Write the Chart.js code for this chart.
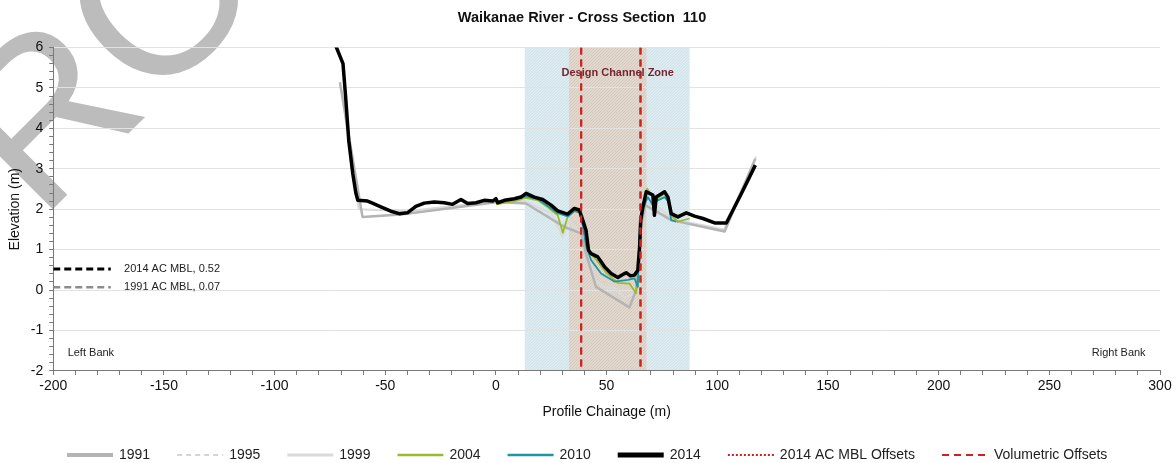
<!DOCTYPE html>
<html>
<head>
<meta charset="utf-8">
<script src="https://cdn.jsdelivr.net/npm/chart.js@4.4.0/dist/chart.umd.min.js"></script>
<style>
  html, body { margin: 0; padding: 0; background: #fff; }
  #wrap { width: 1176px; height: 463px; position: relative; }
</style>
</head>
<body>
<div id="wrap"><canvas id="xs"></canvas></div>
<script>
// survey profiles - chainage (m) / elevation (m)
const ch1991 = [-70.5, -60.3, -43, 0.8, 13.6, 30.9, 38.5, 40.7, 45.2, 60.3, 63.3, 65.5, 67.5, 79.2, 103.3, 117.2];
const el1991 = [5.14, 1.81, 1.87, 2.18, 2.14, 1.56, 1.4, 0.9, 0.08, -0.43, 0.0, 1.6, 2.1, 1.73, 1.45, 3.25];

const ch1995 = [-70.5, -60.3, -43, 0.8, 13.6, 28, 36, 41, 46, 51, 56, 60, 63, 65.5, 68, 79.2, 103.3, 117.2];
const el1995 = [5.14, 1.81, 1.87, 2.18, 2.14, 1.7, 1.45, 0.75, 0.3, 0.1, -0.05, -0.2, 0.1, 1.5, 2.2, 1.73, 1.45, 3.25];

const ch1999 = [-70, -62, -40, 0, 13, 25, 30.2, 33, 40, 44.6, 49, 53.5, 58, 62, 64.5, 66, 68, 80, 103, 117.5];
const el1999 = [5.0, 2.0, 1.95, 2.2, 2.2, 1.9, 1.32, 1.7, 1.3, 0.25, 0.07, 0.05, -0.17, -0.12, 0.3, 2.0, 2.3, 1.75, 1.5, 3.3];

const ch2004 = [0, 8.3, 13.6, 18.9, 23.4, 27.9, 30.2, 32.4, 35.4, 37.7, 39.2, 40.7, 42, 46, 50, 55, 60.3, 63.3, 64.2, 65.4, 66.4, 68.3, 70.9, 71.6, 72.4, 76.2, 77.7, 79.2, 82.2, 87.5];
const el2004 = [2.12, 2.2, 2.28, 2.22, 2.05, 1.85, 1.42, 1.81, 1.95, 1.92, 1.65, 1.35, 0.95, 0.7, 0.42, 0.18, 0.16, -0.08, 0.42, 1.7, 2.05, 2.51, 2.3, 1.85, 2.25, 2.38, 2.25, 1.85, 1.69, 1.77];

const ch2010 = [0, 8.3, 13.6, 18.9, 23.4, 27.9, 32.4, 35.4, 37.7, 39.2, 40.7, 43, 47.5, 53.5, 59.6, 62.6, 64.1, 65, 66.4, 68.6, 70.9, 71.6, 72.4, 76.2, 77.7, 79.2, 81.4];
const el2010 = [2.15, 2.25, 2.32, 2.25, 2.08, 1.9, 1.82, 1.96, 1.92, 1.6, 1.1, 0.74, 0.41, 0.21, 0.25, 0.29, 0.08, 1.5, 2.0, 2.3, 2.1, 1.9, 2.2, 2.3, 2.2, 1.73, 1.69];

const ch2014 = [-72.8, -69.1, -67.9, -66.5, -64.7, -63.3, -62.4, -58, -55.8, -52, -47.5, -43.7, -40, -36.2, -32.4, -27.9, -23.4, -19.6, -15.8, -12.8, -9, -5.3, -1.5, 0, 0.8, 3.8, 8.3, 11.3, 13.6, 17.3, 21.1, 24.9, 27.9, 32.4, 35.4, 37.7, 39.2, 40.7, 41.8, 43, 46, 49, 52, 55.1, 56.9, 58.8, 60.8, 62.6, 64.1, 64.9, 65.4, 66.4, 67.9, 70.9, 71.6, 72.4, 76.2, 77.7, 79.2, 82.2, 86, 89.7, 93.5, 98.8, 104.1, 107.1, 110.9, 117.2];
const el2014 = [6.1, 5.6, 4.77, 3.7, 2.89, 2.4, 2.22, 2.2, 2.15, 2.06, 1.95, 1.89, 1.91, 2.07, 2.15, 2.18, 2.16, 2.12, 2.24, 2.14, 2.16, 2.22, 2.2, 2.26, 2.16, 2.22, 2.26, 2.3, 2.39, 2.3, 2.24, 2.1, 1.96, 1.88, 2.02, 1.98, 1.73, 1.48, 0.99, 0.9, 0.82, 0.58, 0.41, 0.31, 0.37, 0.43, 0.35, 0.37, 0.49, 1.07, 1.73, 2.06, 2.43, 2.35, 1.85, 2.3, 2.43, 2.3, 1.89, 1.81, 1.91, 1.83, 1.77, 1.66, 1.66, 1.98, 2.39, 3.09];

// offsets and zones
const mblOffsetX = [38.5, 65.3];
const volOffsetX = [38.5, 65.3];
const blueZone = [13, 87.5];
const channelZone = [33, 68];
const yLimits = [-2, 6];

// mean bed levels
const mblX = [-200, -174];
const mbl2014 = 0.52;
const mbl1991 = 0.07;

const fam = "'Liberation Sans', Arial, sans-serif";
Chart.defaults.font.family = fam;
Chart.defaults.color = '#111';

function pts(xs, ys) {
  return xs.map((x, i) => ({ x: x, y: ys[i] }));
}

function vlines(xs) {
  let out = [];
  xs.forEach(x => {
    out.push({ x: x, y: yLimits[1] }, { x: x, y: yLimits[0] }, { x: x, y: null });
  });
  return out;
}

function isWhole(v, step) {
  return Math.abs(v / step - Math.round(v / step)) < 1e-6;
}

function hatch(base, dot) {
  const c = document.createElement('canvas');
  c.width = 3; c.height = 3;
  const g = c.getContext('2d');
  g.fillStyle = base;
  g.fillRect(0, 0, 3, 3);
  g.fillStyle = dot;
  g.fillRect(0, 0, 1, 1);
  g.fillRect(2, 1, 1, 1);
  g.fillRect(1, 2, 1, 1);
  return c;
}

const zonesPlugin = {
  id: 'zones',
  beforeDraw(chart) {
    const ctx = chart.ctx;
    const a = chart.chartArea;
    const x = chart.scales.x;

    // watermark
    ctx.save();
    ctx.translate(40, 222);
    ctx.rotate(-Math.PI / 4);
    ctx.font = '220px ' + fam;
    ctx.fillStyle = 'rgb(188,188,188)';
    ctx.fillText('RO', 0, 0);
    ctx.restore();

    ctx.save();
    ctx.fillStyle = ctx.createPattern(hatch('rgb(221,236,241)', 'rgb(208,225,232)'), 'repeat');
    ctx.fillRect(x.getPixelForValue(blueZone[0]), a.top, x.getPixelForValue(blueZone[1]) - x.getPixelForValue(blueZone[0]), a.bottom - a.top);
    ctx.fillStyle = ctx.createPattern(hatch('rgb(226,216,206)', 'rgb(212,201,191)'), 'repeat');
    ctx.fillRect(x.getPixelForValue(channelZone[0]), a.top, x.getPixelForValue(channelZone[1]) - x.getPixelForValue(channelZone[0]), a.bottom - a.top);
    ctx.restore();
  },
  afterDatasetsDraw(chart) {
    const ctx = chart.ctx;
    const x = chart.scales.x, y = chart.scales.y;
    ctx.save();
    ctx.textBaseline = 'middle';
    ctx.font = 'bold 11px ' + fam;
    ctx.fillStyle = 'rgb(118,38,48)';
    ctx.textAlign = 'center';
    ctx.fillText('Design Channel Zone', x.getPixelForValue(55), y.getPixelForValue(5.37));

    ctx.font = '11px ' + fam;
    ctx.fillStyle = '#222';
    ctx.textAlign = 'left';
    ctx.fillText('2014 AC MBL, ' + mbl2014.toFixed(2), x.getPixelForValue(-168), y.getPixelForValue(mbl2014));
    ctx.fillText('1991 AC MBL, ' + mbl1991.toFixed(2), x.getPixelForValue(-168), y.getPixelForValue(mbl1991));
    ctx.fillText('Left Bank', x.getPixelForValue(-193.5), y.getPixelForValue(-1.55));
    ctx.textAlign = 'right';
    ctx.fillText('Right Bank', x.getPixelForValue(293.5), y.getPixelForValue(-1.55));
    ctx.restore();
  }
};

const legendPlugin = {
  id: 'lineLegend',
  afterDraw(chart) {
    const ctx = chart.ctx;
    const ly = chart.height - 8;
    let lx = 67;
    ctx.save();
    ctx.font = '14px ' + fam;
    ctx.textBaseline = 'middle';
    ctx.textAlign = 'left';
    chart.data.datasets.forEach(ds => {
      if (!ds.inLegend) return;
      ctx.strokeStyle = ds.borderColor;
      ctx.lineWidth = ds.legendWidth;
      ctx.setLineDash(ds.legendDash || ds.borderDash || []);
      ctx.beginPath();
      ctx.moveTo(lx, ly);
      ctx.lineTo(lx + 46, ly);
      ctx.stroke();
      ctx.fillStyle = '#222';
      ctx.fillText(ds.label, lx + 52, ly);
      lx += 52 + ctx.measureText(ds.label).width + 27;
    });
    ctx.restore();
  }
};

new Chart(document.getElementById('xs'), {
  type: 'line',
  data: {
    datasets: [
      { label: '1991', data: pts(ch1991, el1991), borderColor: 'rgb(180,180,180)', borderWidth: 2.5, legendWidth: 4, inLegend: true, order: 3 },
      { label: '1995', data: pts(ch1995, el1995), borderColor: 'rgb(212,212,212)', borderWidth: 1.5, borderDash: [5, 4], legendWidth: 2, inLegend: true, order: 5 },
      { label: '1999', data: pts(ch1999, el1999), borderColor: 'rgb(218,218,218)', borderWidth: 2, legendWidth: 3, inLegend: true, order: 4 },
      { label: '2004', data: pts(ch2004, el2004), borderColor: 'rgb(155,187,47)', borderWidth: 1.8, legendWidth: 2.5, inLegend: true, order: 2 },
      { label: '2010', data: pts(ch2010, el2010), borderColor: 'rgb(31,148,168)', borderWidth: 1.8, legendWidth: 2.5, inLegend: true, order: 1 },
      { label: '2014', data: pts(ch2014, el2014), borderColor: 'rgb(0,0,0)', borderWidth: 3.5, legendWidth: 5, inLegend: true, order: 0 },
      // AC MBL offsets sit exactly under the volumetric offsets
      { label: '2014 AC MBL Offsets', data: vlines(mblOffsetX), borderColor: 'rgb(204,34,34)', borderWidth: 2, borderDash: [7, 5], legendDash: [2, 2], legendWidth: 2, inLegend: true, order: -1 },
      { label: 'Volumetric Offsets', data: vlines(volOffsetX), borderColor: 'rgb(204,34,34)', borderWidth: 2, borderDash: [7, 5], legendWidth: 2, inLegend: true, order: -2 },
      { label: '2014 AC MBL', data: pts(mblX, mblX.map(() => mbl2014)), borderColor: 'rgb(0,0,0)', borderWidth: 3, borderDash: [7, 4], order: -3 },
      { label: '1991 AC MBL', data: pts(mblX, mblX.map(() => mbl1991)), borderColor: 'rgb(140,140,140)', borderWidth: 2.5, borderDash: [7, 4], order: -3 }
    ]
  },
  options: {
    responsive: true,
    maintainAspectRatio: false,
    animation: false,
    spanGaps: false,
    elements: {
      point: { radius: 0, hoverRadius: 0 },
      line: { tension: 0, fill: false, borderJoinStyle: 'round' }
    },
    layout: { padding: { left: 4, right: 16, top: 0, bottom: 40.5 } },
    plugins: {
      legend: { display: false },
      tooltip: { enabled: false },
      title: {
        display: true,
        text: 'Waikanae River - Cross Section  110',
        font: { size: 14.5, weight: 'bold' },
        color: '#111',
        padding: { top: 9.5, bottom: 20.6 }
      }
    },
    scales: {
      x: {
        type: 'linear',
        min: -200,
        max: 300,
        border: { color: 'rgb(120,120,120)', width: 1 },
        grid: { drawOnChartArea: false, tickLength: 4, tickColor: 'rgb(120,120,120)' },
        ticks: {
          stepSize: 10,
          maxTicksLimit: 100,
          autoSkip: false,
          maxRotation: 0,
          padding: 3,
          font: { size: 14 },
          color: '#111',
          callback: v => isWhole(v, 50) ? String(v) : ''
        },
        title: { display: true, text: 'Profile Chainage (m)', font: { size: 14 }, color: '#111', padding: { top: 6, bottom: 2 } }
      },
      y: {
        type: 'linear',
        min: yLimits[0],
        max: yLimits[1],
        border: { color: 'rgb(120,120,120)', width: 1 },
        grid: {
          tickLength: 4,
          tickColor: 'rgb(120,120,120)',
          color: c => isWhole(c.tick.value, 1) && c.tick.value > yLimits[0] ? 'rgb(226,226,226)' : 'rgba(0,0,0,0)'
        },
        ticks: {
          stepSize: 0.2,
          maxTicksLimit: 100,
          autoSkip: false,
          padding: 6,
          font: { size: 14 },
          color: '#111',
          callback: v => isWhole(v, 1) ? String(Math.round(v)) : ''
        },
        title: { display: true, text: 'Elevation (m)', font: { size: 14 }, color: '#111', padding: { top: 3, bottom: 1 } }
      }
    }
  },
  plugins: [zonesPlugin, legendPlugin]
});
</script>
</body>
</html>
